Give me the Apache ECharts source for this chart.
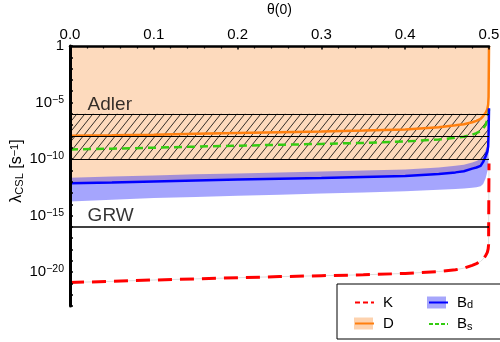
<!DOCTYPE html>
<html><head><meta charset="utf-8">
<script src="https://cdn.jsdelivr.net/npm/echarts@6/dist/echarts.min.js"></script>
<style>html,body{margin:0;padding:0;background:#fff}#c{width:500px;height:342px}</style>
</head><body><div id="c"></div>
<script>
// theta(0) sample points
const theta    = [0, 0.05, 0.1, 0.15, 0.2, 0.25, 0.3, 0.35, 0.4, 0.44, 0.46, 0.47, 0.48, 0.485, 0.49, 0.493, 0.496, 0.498, 0.499, 0.4995, 0.5];
// log10(lambda) values
const logK      = [-20.92,-20.82,-20.7,-20.6,-20.5,-20.4,-20.32,-20.24,-20.12,-19.95,-19.8,-19.65,-19.4,-19.25,-19.05,-18.85,-18.55,-18.25,-17.95,-17.6,-10.4];
const logD      = [-7.95,-7.9,-7.84,-7.77,-7.7,-7.63,-7.56,-7.48,-7.38,-7.18,-7.02,-6.92,-6.75,-6.62,-6.45,-6.2,-5.9,-5.6,-5.2,-4.5,0];
const logDLow   = [-12.15,-12.07,-11.98,-11.9,-11.82,-11.74,-11.67,-11.59,-11.5,-11.33,-11.18,-11.08,-10.85,-10.75,-10.6,-10.25,-9.75,-9.35,-8.9,-7.8,-5.5];
const logBs     = [-9.15,-9.08,-9.0,-8.9,-8.82,-8.74,-8.66,-8.57,-8.45,-8.27,-8.12,-8.02,-7.85,-7.7,-7.5,-7.3,-7.0,-6.5,-6.1,-5.9,-5.6];
const logBd     = [-12.15,-12.07,-11.98,-11.9,-11.82,-11.74,-11.67,-11.59,-11.5,-11.33,-11.18,-11.08,-10.85,-10.75,-10.6,-10.25,-9.75,-9.35,-8.9,-7.8,-5.5];
const logBdHigh = [-11.65,-11.55,-11.45,-11.35,-11.27,-11.19,-11.1,-11.02,-10.92,-10.75,-10.6,-10.5,-10.3,-10.18,-10.0,-9.7,-9.2,-8.8,-8.3,-7.2,-5.2];
const logBdLow  = [-13.75,-13.6,-13.45,-13.35,-13.25,-13.15,-13.05,-12.97,-12.85,-12.72,-12.65,-12.6,-12.55,-12.5,-12.4,-12.2,-11.7,-11.1,-10.6,-9.6,-6.0];
// reference levels
const adlerLevels = [-6, -8, -10];
const grwLevel = -16;
// annotations
const noteNames = ['Adler', 'GRW'];
const noteX = [0.021, 0.021];
const noteY = [-5.2, -15.05];
// legend
const legendNames = ['K', 'D', 'Bd', 'Bs'];

const FONT = 'Liberation Sans';
const pairs = ys => theta.map((t, i) => [t, ys[i]]);

function hatchCanvas() {
  const c = document.createElement('canvas');
  c.width = 8; c.height = 10;
  const g = c.getContext('2d');
  g.strokeStyle = '#000'; g.lineWidth = 0.8;
  for (const dx of [-8, 0, 8]) { g.beginPath(); g.moveTo(dx, 10); g.lineTo(dx + 8, 0); g.stroke(); }
  return c;
}

const legendFmt = {K: '{n|K}', D: '{n|D}', Bd: '{b|B}{s|d}', Bs: '{b|B}{s|s}'};
function legendCfg(isBack) {
  const txtColor = isBack ? 'rgba(0,0,0,0)' : '#000';
  return {
    orient: 'vertical', left: 337, top: 284, height: 38,
    itemWidth: 19, itemHeight: 12, itemGap: 6,
    padding: [11, 35, 7, 17],
    selectedMode: false,
    z: isBack ? 10 : 11,
    backgroundColor: isBack ? '#fff' : 'transparent',
    borderColor: isBack ? '#000' : 'transparent',
    borderWidth: isBack ? 1 : 0,
    formatter: name => legendFmt[name],
    textStyle: {
      fontFamily: FONT, fontSize: 15, color: txtColor,
      rich: {
        n: {fontFamily: FONT, fontSize: 15, lineHeight: 16, width: 39, padding: [0, 0, 0, 4], color: txtColor},
        b: {fontFamily: FONT, fontSize: 15, lineHeight: 16, padding: [0, 0, 0, 4], color: txtColor},
        s: {fontFamily: FONT, fontSize: 11, lineHeight: 8, verticalAlign: 'bottom', color: txtColor}
      }
    },
    itemStyle: isBack ? {} : {opacity: 0},
    data: isBack ? [
      {name: 'K', icon: 'rect', itemStyle: {opacity: 0}},
      {name: 'D', icon: 'rect', itemStyle: {color: '#fdd2ae', opacity: 1, borderWidth: 0}},
      {name: 'Bd', icon: 'rect', itemStyle: {color: '#a6a6fb', opacity: 1, borderWidth: 0}},
      {name: 'Bs', icon: 'rect', itemStyle: {opacity: 0}}
    ] : [
      {name: 'K', lineStyle: {type: [5, 3], width: 2}},
      {name: 'D', lineStyle: {width: 2}},
      {name: 'Bd', lineStyle: {width: 2}},
      {name: 'Bs', lineStyle: {type: [4, 2], width: 2}}
    ]
  };
}

const chart = echarts.init(document.getElementById('c'), null, {renderer: 'canvas'});
chart.setOption({
  animation: false,
  textStyle: {fontFamily: FONT},
  grid: {left: 70, right: 11, top: 46, bottom: 36, outerBoundsMode: 'none', containLabel: false},
  xAxis: {
    type: 'value', position: 'top', min: 0, max: 0.5, interval: 0.1, z: 20,
    name: 'θ(0)', nameLocation: 'middle', nameGap: 29, nameMoveOverlap: false,
    nameTextStyle: {fontFamily: FONT, fontSize: 14, color: '#000'},
    axisLine: {show: true, onZero: false, lineStyle: {color: '#000', width: 2.5}},
    axisTick: {show: true, inside: true, length: 3.5, lineStyle: {color: '#000', width: 1.5}},
    minorTick: {show: true, splitNumber: 5, length: 2.5, lineStyle: {color: '#000', width: 1.2}},
    axisLabel: {fontFamily: FONT, fontSize: 15, color: '#000', margin: 4, formatter: v => v.toFixed(1)},
    splitLine: {show: false}
  },
  yAxis: {
    type: 'value', min: -23, max: 0, interval: 1, z: 20,
    name: 'λ{sub|CSL} [s{sup|−1}]', nameLocation: 'middle', nameGap: 45, nameMoveOverlap: false,
    nameTextStyle: {fontFamily: FONT, fontSize: 16, color: '#000', padding: [0, 0, 0, 10],
      rich: {
        sub: {fontFamily: FONT, fontSize: 11, lineHeight: 8, verticalAlign: 'bottom', color: '#000'},
        sup: {fontFamily: FONT, fontSize: 11, lineHeight: 8, verticalAlign: 'top', color: '#000'}
      }},
    axisLine: {show: true, onZero: false, lineStyle: {color: '#000', width: 3}},
    axisTick: {show: true, inside: true, length: 3, lineStyle: {color: '#000', width: 1.5}},
    axisLabel: {
      fontFamily: FONT, fontSize: 15, color: '#000', margin: 6,
      formatter: v => v === 0 ? '{m|1}' : (v % 5 !== 0 ? '' : '{m|10}{p|−' + (-v) + '}'),
      rich: {
        m: {fontFamily: FONT, fontSize: 15, lineHeight: 16, color: '#000'},
        p: {fontFamily: FONT, fontSize: 10.5, lineHeight: 10, verticalAlign: 'top', color: '#000'}
      }
    },
    splitLine: {show: false}
  },
  legend: [legendCfg(true), legendCfg(false)],
  series: [
    {
      name: 'D band', type: 'line', data: pairs(logDLow), symbol: 'none', z: 1, silent: true,
      lineStyle: {width: 0, opacity: 0},
      areaStyle: {color: '#fddabd', opacity: 1, origin: 'end'}
    },
    {
      name: 'Bd band', type: 'custom', z: 2, silent: true, clip: true,
      data: [[theta[0], logBd[0]]],
      encode: {x: 0, y: 1},
      renderItem: (params, api) => {
        const pts = [];
        for (let i = 0; i < theta.length; i++) pts.push(api.coord([theta[i], logBdHigh[i]]));
        for (let i = theta.length - 1; i >= 0; i--) pts.push(api.coord([theta[i], logBdLow[i]]));
        return {type: 'polygon', shape: {points: pts, smooth: 0}, style: {fill: 'rgba(40,40,250,0.42)'}};
      }
    },
    {
      name: 'notes', type: 'scatter', z: 6, silent: true, symbolSize: 0,
      data: noteNames.map((n, i) => ({name: n, value: [noteX[i], noteY[i]]})),
      label: {show: true, position: 'right', distance: 0, formatter: '{b}', fontFamily: FONT, fontSize: 19, color: '#000'},
      markArea: {
        silent: true, z: 3,
        itemStyle: {color: {image: hatchCanvas(), repeat: 'repeat'}, borderWidth: 0},
        data: [[{yAxis: adlerLevels[2]}, {yAxis: adlerLevels[0]}]]
      },
      markLine: {
        silent: true, symbol: 'none', z: 5, animation: false,
        label: {show: false},
        lineStyle: {color: '#000', type: 'solid', width: 1},
        data: adlerLevels.map(v => ({yAxis: v})).concat([{yAxis: grwLevel, lineStyle: {width: 1.5}}])
      }
    },
    {
      name: 'D', type: 'line', data: pairs(logD), symbol: 'none', z: 4,
      lineStyle: {color: '#ff7f0e', width: 2.5}, itemStyle: {color: '#ff7f0e'}
    },
    {
      name: 'Bs', type: 'line', data: pairs(logBs), symbol: 'none', z: 4,
      lineStyle: {color: '#33cc11', width: 2.5, type: [8, 5]}, itemStyle: {color: '#33cc11'}
    },
    {
      name: 'Bd', type: 'line', data: pairs(logBd), symbol: 'none', z: 4,
      lineStyle: {color: '#0000ff', width: 2.5}, itemStyle: {color: '#0000ff'}
    },
    {
      name: 'K under', type: 'line', data: pairs(logK), symbol: 'none', z: 4, silent: true,
      lineStyle: {color: '#dddddd', width: 1}
    },
    {
      name: 'K', type: 'line', data: pairs(logK), symbol: 'none', z: 4,
      lineStyle: {color: '#ff0000', width: 3, type: [14, 8]}, itemStyle: {color: '#ff0000'}
    }
  ]
});
</script></body></html>
